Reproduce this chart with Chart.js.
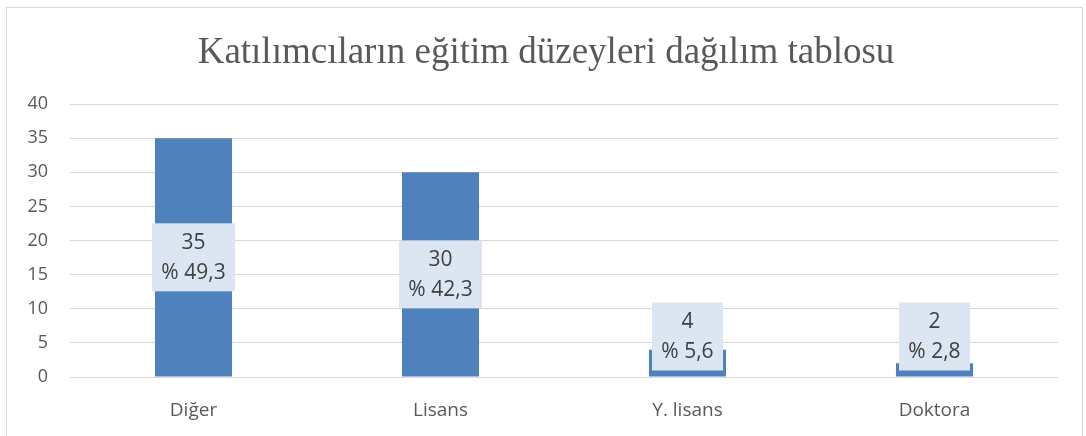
<!DOCTYPE html>
<html>
<head>
<meta charset="utf-8">
<script src="https://cdn.jsdelivr.net/npm/chart.js@4/dist/chart.umd.min.js"></script>
<style>
  html, body { margin: 0; padding: 0; background: #ffffff; }
  #wrap { position: relative; width: 1086px; height: 436px; overflow: hidden; }
  #frame { position: absolute; left: 6px; top: 7px; width: 1077px; height: 460px; border: 1px solid #d9d9d9; box-sizing: border-box; }
  canvas { position: absolute; left: 0; top: 0; }
</style>
</head>
<body>
<div id="wrap">
  <div id="frame"></div>
  <canvas id="c" width="1086" height="436"></canvas>
</div>
<script>
const titleText = "Katılımcıların eğitim düzeyleri dağılım tablosu";
const categories = ["Diğer", "Lisans", "Y. lisans", "Doktora"];
const counts = [35, 30, 4, 2];
const percentLabels = ["% 49,3", "% 42,3", "% 5,6", "% 2,8"];
const yTicks = [0, 5, 10, 15, 20, 25, 30, 35, 40];

const titlePlugin = {
  id: 'customTitle',
  afterDraw(chart) {
    const ctx = chart.ctx;
    ctx.save();
    ctx.font = '37px "Liberation Serif", "Times New Roman", serif';
    ctx.fillStyle = '#595959';
    ctx.textAlign = 'center';
    ctx.textBaseline = 'alphabetic';
    ctx.fillText(titleText, 546, 63);
    ctx.restore();
  }
};

const labelPlugin = {
  id: 'boxLabels',
  afterDatasetsDraw(chart) {
    const ctx = chart.ctx;
    const meta = chart.getDatasetMeta(0);
    const boxH = 68;
    ctx.save();
    ctx.font = '21px "Open Sans", sans-serif';
    meta.data.forEach((bar, i) => {
      const props = bar.getProps(['x', 'y', 'base'], true);
      const tw = Math.max(ctx.measureText(String(counts[i])).width, ctx.measureText(percentLabels[i]).width);
      const boxW = Math.round(tw + 19);
      let cy = (props.y + props.base) / 2;
      cy = Math.min(cy, props.base - 6 - boxH / 2);
      const x0 = props.x - boxW / 2, y0 = cy - boxH / 2;
      ctx.fillStyle = '#dce6f2';
      ctx.fillRect(x0, y0, boxW, boxH);
      ctx.fillStyle = '#404040';
      ctx.textAlign = 'center';
      ctx.textBaseline = 'middle';
      ctx.fillText(String(counts[i]), props.x, cy - 14);
      ctx.fillText(percentLabels[i], props.x, cy + 16);
    });
    ctx.restore();
  }
};

new Chart(document.getElementById('c'), {
  type: 'bar',
  data: {
    labels: categories,
    datasets: [{
      data: counts,
      backgroundColor: '#4f81bd',
      borderWidth: 0,
      categoryPercentage: 1,
      barPercentage: 0.312
    }]
  },
  options: {
    responsive: false,
    animation: false,
    devicePixelRatio: 1,
    layout: { padding: { top: 104, right: 28, bottom: 0, left: 0 } },
    plugins: { legend: { display: false }, title: { display: false }, tooltip: { enabled: false } },
    scales: {
      x: {
        grid: { display: false },
        border: { display: false },
        ticks: { color: '#595959', font: { family: '"Open Sans", sans-serif', size: 19 }, padding: 14 },
        afterFit(scale) { scale.height = 59; }
      },
      y: {
        min: 0, max: 40,
        afterBuildTicks(scale) { scale.ticks = yTicks.map(v => ({ value: v })); },
        grid: { color: '#d9d9d9', lineWidth: 1, drawTicks: false },
        border: { display: false },
        ticks: { color: '#595959', font: { family: '"Open Sans", sans-serif', size: 18 }, padding: 22 },
        afterFit(scale) { scale.width = 70; }
      }
    }
  },
  plugins: [titlePlugin, labelPlugin]
});
</script>
</body>
</html>
